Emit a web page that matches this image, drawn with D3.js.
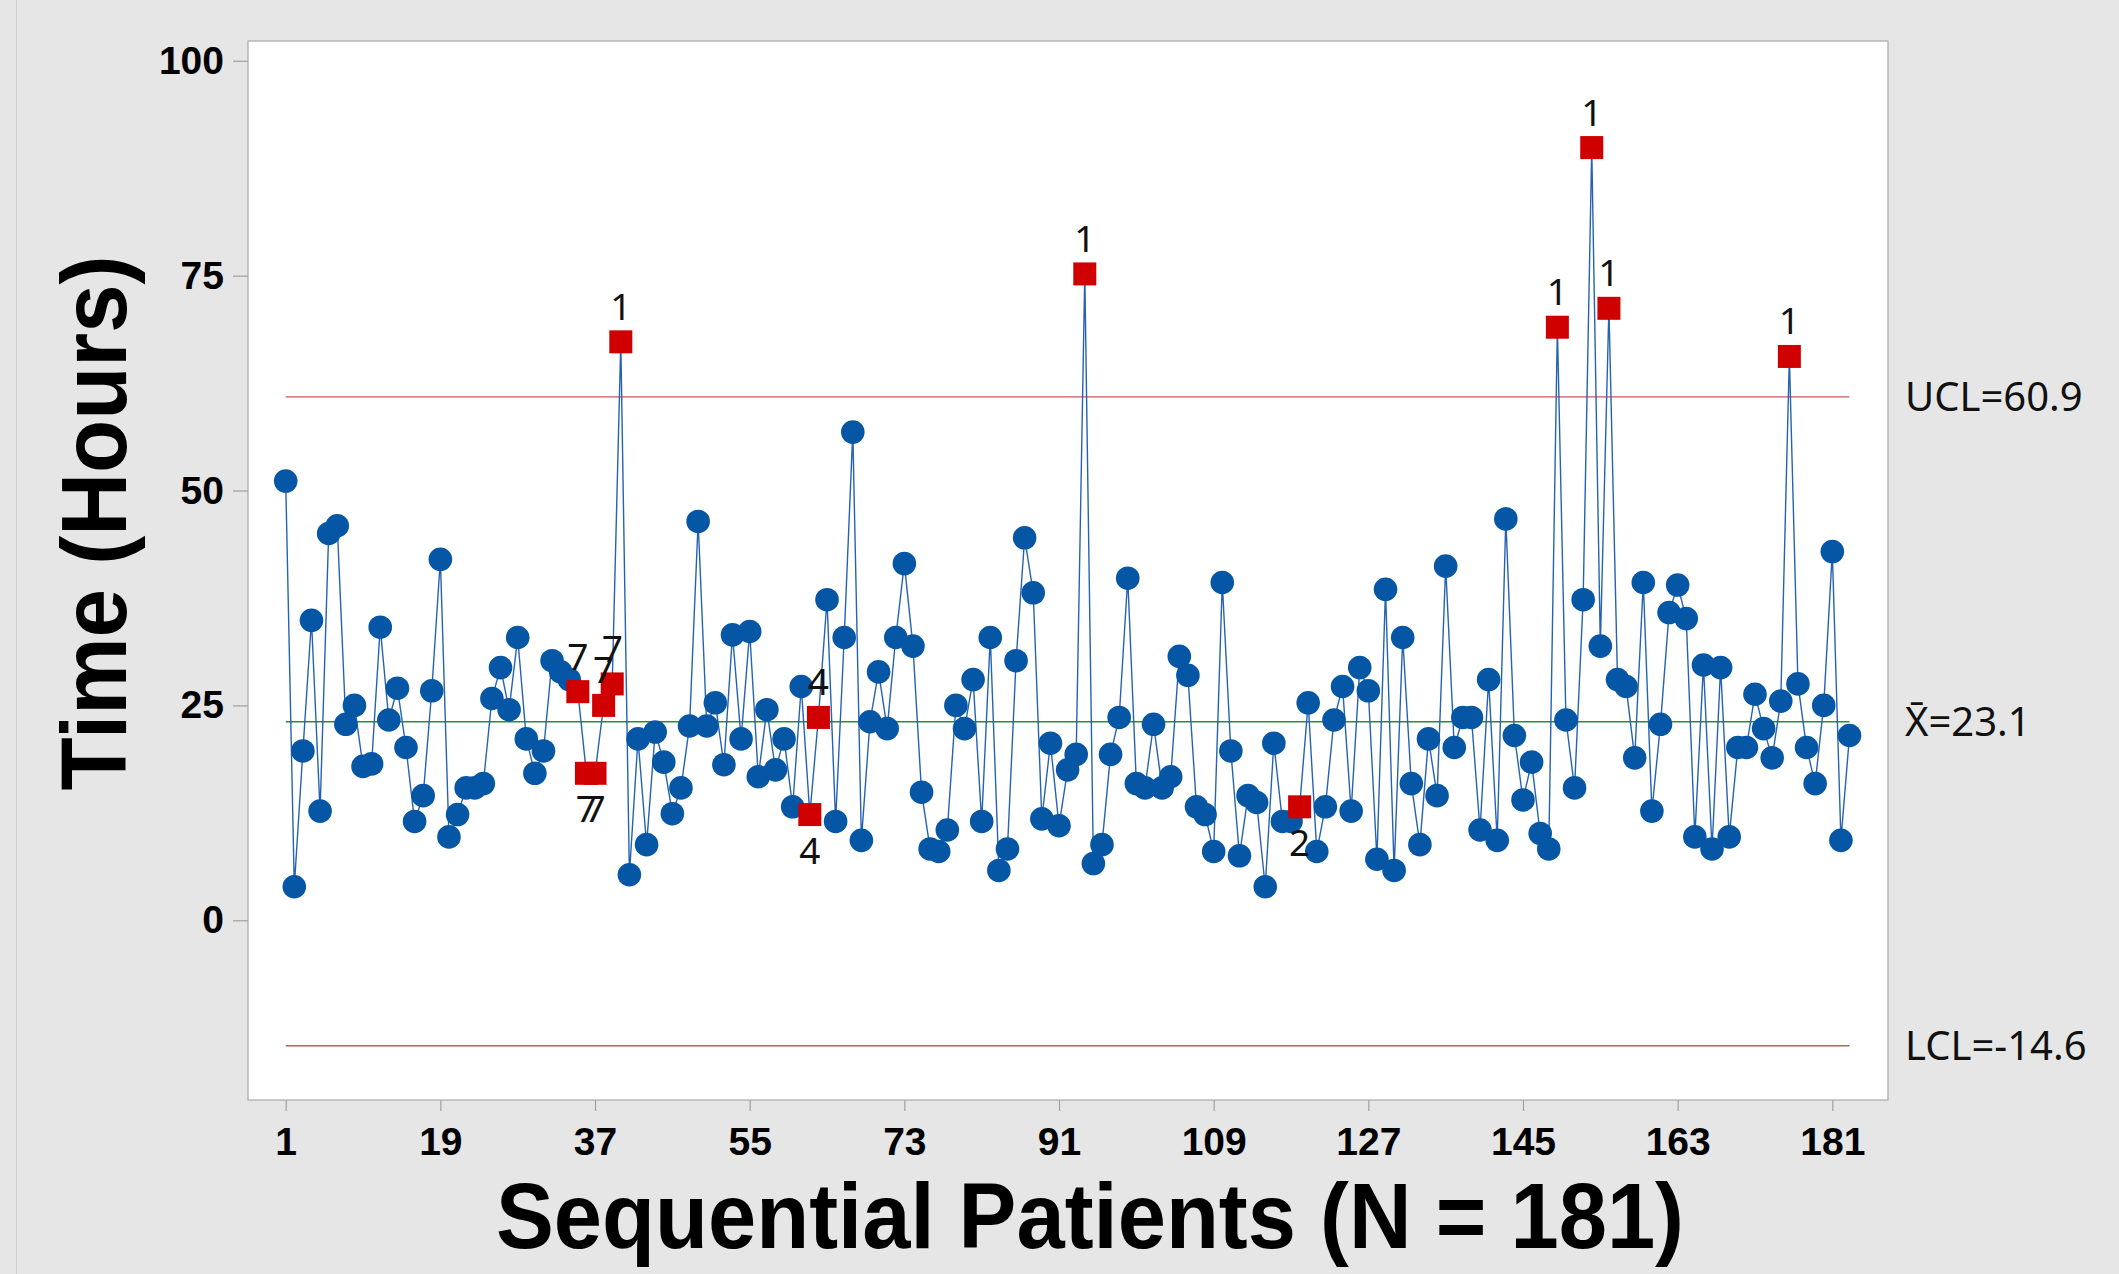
<!DOCTYPE html>
<html>
<head>
<meta charset="utf-8">
<script src="https://cdn.jsdelivr.net/npm/d3@7"></script>
<style>
  body { margin: 0; background: #e6e6e6; }
  svg { display: block; }
</style>
</head>
<body>
<div id="chart"></div>
<script>

// hours per patient, in order (1..183)
var times = [
  51.1, 3.9, 19.7, 34.9, 12.7, 45.0, 45.9, 22.8, 25.0, 17.9,
  18.2, 34.1, 23.3, 27.0, 20.1, 11.5, 14.5, 26.7, 42.0, 9.7,
  12.3, 15.4, 15.4, 15.9, 25.8, 29.4, 24.5, 32.9, 21.1, 17.1,
  19.7, 30.2, 28.9, 28.0, 26.6, 17.1, 17.1, 25.0, 27.5, 67.3,
  5.3, 21.1, 8.8, 21.9, 18.4, 12.4, 15.4, 22.6, 46.4, 22.6,
  25.3, 18.1, 33.2, 21.1, 33.6, 16.7, 24.5, 17.5, 21.1, 13.2,
  27.2, 12.3, 23.6, 37.3, 11.5, 32.9, 56.8, 9.3, 23.1, 28.9,
  22.3, 32.9, 41.5, 31.9, 14.9, 8.3, 8.0, 10.5, 25.0, 22.3,
  28.0, 11.5, 32.9, 5.8, 8.3, 30.2, 44.5, 38.1, 11.8, 20.6,
  11.0, 17.5, 19.3, 75.2, 6.6, 8.8, 19.3, 23.6, 39.8, 15.9,
  15.4, 22.8, 15.4, 16.7, 30.7, 28.5, 13.2, 12.3, 8.0, 39.3,
  19.7, 7.5, 14.5, 13.7, 3.9, 20.6, 11.5, 11.5, 13.2, 25.3,
  8.0, 13.2, 23.3, 27.2, 12.7, 29.4, 26.7, 7.1, 38.5, 5.8,
  32.9, 15.9, 8.8, 21.1, 14.5, 41.2, 20.1, 23.6, 23.6, 10.5,
  28.0, 9.3, 46.7, 21.5, 14.0, 18.4, 10.1, 8.3, 69.0, 23.3,
  15.4, 37.3, 89.9, 31.9, 71.2, 28.0, 27.2, 18.9, 39.3, 12.7,
  22.8, 35.8, 39.0, 35.1, 9.7, 29.7, 8.3, 29.4, 9.7, 20.1,
  20.1, 26.3, 22.3, 18.9, 25.5, 65.6, 27.5, 20.1, 15.9, 25.0,
  42.9, 9.3, 21.5
];

// points that failed a test, and the test number shown next to them
var flagIndex = [35, 36, 37, 38, 39, 40, 62, 63, 94, 119, 149, 153, 155, 176];
var flagTest  = ["7", "7", "7", "7", "7", "1", "4", "4", "1", "2", "1", "1", "1", "1"];

// control limits
var limitNames  = ["UCL=60.9", "X\u0304=23.1", "LCL=-14.6"];
var limitValues = [60.9, 23.1, -14.6];
var centerValue = 23.1;

// tick labels
var xTicks = [1, 19, 37, 55, 73, 91, 109, 127, 145, 163, 181];
var yTicks = [0, 25, 50, 75, 100];

var data = times.map(function(v, i) { return {n: i + 1, value: v}; });

var W = 2119, H = 1274;
var margin = {top: 41, left: 248},
    width = 1640,
    height = 1059;

var svg = d3.select("#chart")
  .append("svg")
    .attr("width", W)
    .attr("height", H);

svg.append("rect")
  .attr("width", W)
  .attr("height", H)
  .attr("fill", "#e6e6e6");

svg.append("line")
  .attr("x1", 16.5).attr("x2", 16.5)
  .attr("y1", 0).attr("y2", H)
  .attr("stroke", "#cfcfcf");

var g = svg.append("g")
  .attr("transform", "translate(" + margin.left + "," + margin.top + ")");

// plot area
g.append("rect")
  .attr("width", width)
  .attr("height", height)
  .attr("fill", "#ffffff")
  .attr("stroke", "#a8a8a8")
  .attr("stroke-width", 1.2);

var x = d3.scaleLinear()
  .domain([-3.388, 187.48])
  .range([0, width]);

var y = d3.scaleLinear()
  .domain([-20.91, 102.3])
  .range([height, 0]);

// axes
var xAxis = g.append("g")
  .attr("transform", "translate(0," + height + ")")
  .call(d3.axisBottom(x).tickValues(xTicks).tickSize(11).tickPadding(16).tickFormat(d3.format("d")));

var yAxis = g.append("g")
  .call(d3.axisLeft(y).tickValues(yTicks).tickSize(15).tickPadding(9).tickFormat(d3.format("d")));

[xAxis, yAxis].forEach(function(ax) {
  ax.select(".domain").remove();
  ax.selectAll(".tick line").attr("stroke", "#a0a0a0").attr("stroke-width", 1.2);
  ax.selectAll(".tick text")
    .attr("fill", "#000")
    .style("font-family", "'Liberation Sans', Arial, sans-serif")
    .style("font-weight", "bold")
    .style("font-size", "39px");
});

// control limit lines
limitValues.forEach(function(v, i) {
  g.append("line")
    .attr("x1", x(1)).attr("x2", x(183))
    .attr("y1", y(v)).attr("y2", y(v))
    .attr("stroke", i == 1 ? "#2e8b3a" : "#c85a5a")
    .attr("stroke-width", 1.4);

  g.append("text")
    .attr("x", width + 17)
    .attr("y", y(v) + 14)
    .style("font-family", "'Noto Sans', 'Open Sans', sans-serif")
    .style("font-size", "40px")
    .attr("fill", "#111")
    .text(limitNames[i]);
});

// the data line
g.append("path")
  .datum(data)
  .attr("fill", "none")
  .attr("stroke", "#2563b2")
  .attr("stroke-width", 1.4)
  .attr("d", d3.line()
    .x(function(d) { return x(d.n); })
    .y(function(d) { return y(d.value); }));

// normal points
var ok = data.filter(function(d) { return flagIndex.indexOf(d.n) < 0; });
g.selectAll(".dot")
  .data(ok)
  .enter()
  .append("circle")
    .attr("class", "dot")
    .attr("cx", function(d) { return x(d.n); })
    .attr("cy", function(d) { return y(d.value); })
    .attr("r", 11.8)
    .attr("fill", "#0656a6");

// flagged points as red squares with the test number
var flagged = flagIndex.map(function(n, i) {
  return {n: n, value: times[n - 1], test: flagTest[i]};
});

g.selectAll(".flag")
  .data(flagged)
  .enter()
  .append("rect")
    .attr("class", "flag")
    .attr("x", function(d) { return x(d.n) - 11.5; })
    .attr("y", function(d) { return y(d.value) - 11.5; })
    .attr("width", 23)
    .attr("height", 23)
    .attr("fill", "#d10000");

g.selectAll(".flagLabel")
  .data(flagged)
  .enter()
  .append("text")
    .attr("class", "flagLabel")
    .attr("x", function(d) { return x(d.n); })
    .attr("y", function(d) {
      // label above the point when it sits above the centre line, below otherwise
      return d.value > centerValue ? y(d.value) - 22 : y(d.value) + 49;
    })
    .attr("text-anchor", "middle")
    .style("font-family", "'Noto Sans', 'Open Sans', sans-serif")
    .style("font-size", "37px")
    .attr("fill", "#111")
    .text(function(d) { return d.test; });

// axis titles
svg.append("text")
  .attr("transform", "translate(126,523) rotate(-90)")
  .attr("text-anchor", "middle")
  .attr("textLength", 535)
  .attr("lengthAdjust", "spacingAndGlyphs")
  .style("font-family", "'Liberation Sans', Arial, sans-serif")
  .style("font-weight", "bold")
  .style("font-size", "92px")
  .attr("fill", "#000")
  .text("Time (Hours)");

svg.append("text")
  .attr("x", 1090)
  .attr("y", 1248)
  .attr("text-anchor", "middle")
  .attr("textLength", 1188)
  .attr("lengthAdjust", "spacingAndGlyphs")
  .style("font-family", "'Liberation Sans', Arial, sans-serif")
  .style("font-weight", "bold")
  .style("font-size", "92px")
  .attr("fill", "#000")
  .text("Sequential Patients (N = 181)");

</script>
</body>
</html>
